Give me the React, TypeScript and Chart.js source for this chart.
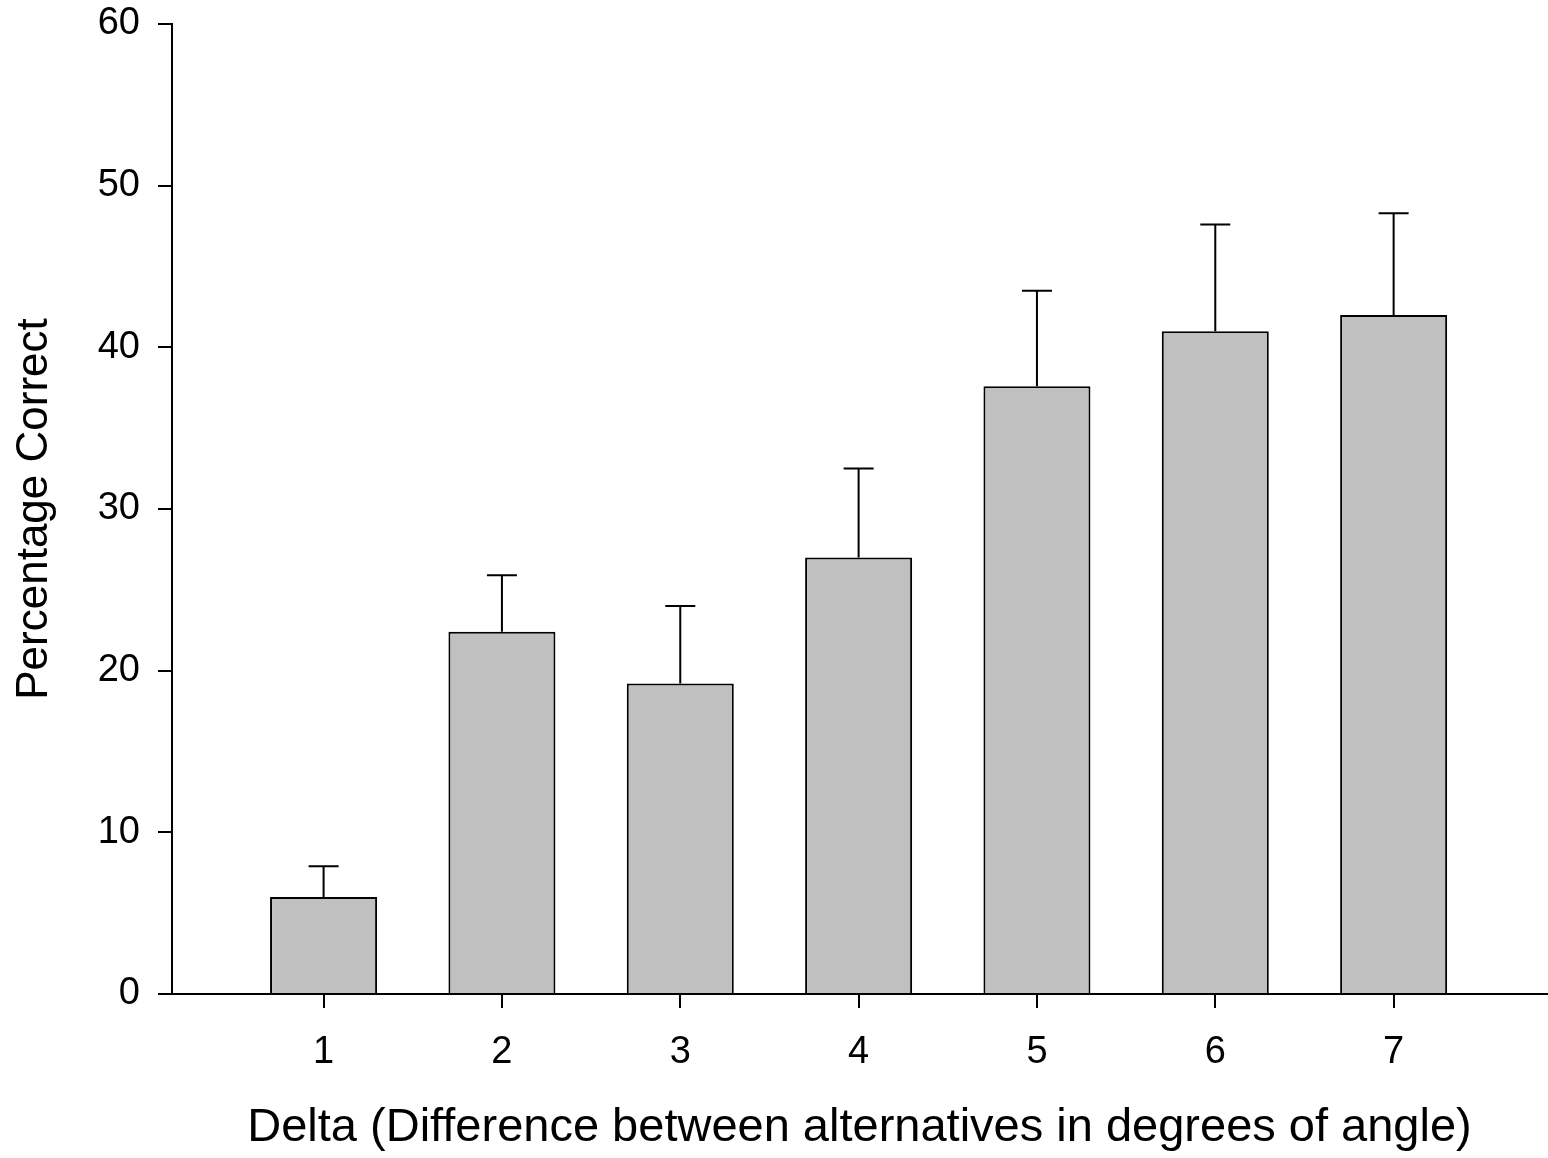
import React, { useEffect, useRef } from "react";
import { Chart, registerables } from "chart.js";

Chart.register(...registerables);

const categories = [1, 2, 3, 4, 5, 6, 7];
const means = [6.0, 22.4, 19.2, 27.0, 37.6, 41.0, 42.0];
const upperErrors = [7.9, 25.9, 24.0, 32.5, 43.5, 47.6, 48.3];
const yTicks = [0, 10, 20, 30, 40, 50, 60];
const xTitle = "Delta (Difference between alternatives in degrees of angle)";
const yTitle = "Percentage Correct";

const FONT = "'Liberation Sans', Arial, Helvetica, sans-serif";

const errorBarPlugin = {
  id: "errorBars",
  afterDatasetsDraw(chart: any) {
    const xs = chart.scales.x;
    const ys = chart.scales.y;
    const ctx = chart.ctx;
    ctx.save();
    ctx.strokeStyle = "#000";
    ctx.lineWidth = 2;
    categories.forEach((c, i) => {
      const x = xs.getPixelForValue(c);
      const yb = ys.getPixelForValue(means[i]);
      const yt = ys.getPixelForValue(upperErrors[i]);
      ctx.beginPath();
      ctx.moveTo(x, yb);
      ctx.lineTo(x, yt);
      ctx.moveTo(x - 15, yt);
      ctx.lineTo(x + 15, yt);
      ctx.stroke();
    });
    ctx.restore();
  },
};

export default function App() {
  const ref = useRef<HTMLCanvasElement | null>(null);
  useEffect(() => {
    if (!ref.current) return;
    const chart = new Chart(ref.current, {
      type: "bar",
      data: {
        datasets: [
          {
            data: categories.map((c, i) => ({ x: c, y: means[i] })),
            backgroundColor: "#c0c0c0",
            borderColor: "#000",
            borderWidth: 2,
            barPercentage: 0.6,
            categoryPercentage: 1,
          },
        ],
      },
      options: {
        animation: false,
        responsive: true,
        maintainAspectRatio: false,
        layout: { padding: { left: 0, top: 24, right: 1, bottom: 0 } },
        plugins: { legend: { display: false }, tooltip: { enabled: false } },
        scales: {
          x: {
            type: "linear",
            offset: false,
            min: 0.15,
            max: 7.86,
            afterBuildTicks: (s: any) => {
              s.ticks = categories.map((v) => ({ value: v }));
            },
            afterFit: (s: any) => {
              s.height = 164;
              s.paddingLeft = 0;
              s.paddingRight = 0;
            },
            grid: {
              display: true,
              offset: false,
              drawOnChartArea: false,
              drawTicks: true,
              tickLength: 14,
              color: "#000",
              lineWidth: 2,
            },
            border: { display: true, color: "#000", width: 2 },
            ticks: {
              color: "#000",
              font: { family: FONT, size: 38 },
              padding: 22,
              maxRotation: 0,
              callback: (v: any) => String(v),
            },
            title: {
              display: true,
              text: xTitle,
              color: "#000",
              font: { family: FONT, size: 47, lineHeight: 1.2 },
              padding: { top: 0, bottom: 2 },
            },
          },
          y: {
            type: "linear",
            min: 0,
            max: 60,
            afterBuildTicks: (s: any) => {
              s.ticks = yTicks.map((v) => ({ value: v }));
            },
            afterFit: (s: any) => {
              s.width = 172;
              s.paddingTop = 0;
              s.paddingBottom = 0;
            },
            grid: {
              display: true,
              drawOnChartArea: false,
              drawTicks: true,
              tickLength: 14,
              color: "#000",
              lineWidth: 2,
            },
            border: { display: true, color: "#000", width: 2 },
            ticks: {
              color: "#000",
              font: { family: FONT, size: 38 },
              padding: 18,
            },
            title: {
              display: true,
              text: yTitle,
              color: "#000",
              font: { family: FONT, size: 44, lineHeight: 1.2 },
              padding: { top: 8, bottom: 0 },
            },
          },
        },
      },
      plugins: [errorBarPlugin],
    } as any);
    return () => chart.destroy();
  }, []);
  return (
    <div
      style={{
        position: "absolute",
        left: 0,
        top: 0,
        width: 1548,
        height: 1158,
        background: "#fff",
      }}
    >
      <canvas ref={ref} />
    </div>
  );
}
